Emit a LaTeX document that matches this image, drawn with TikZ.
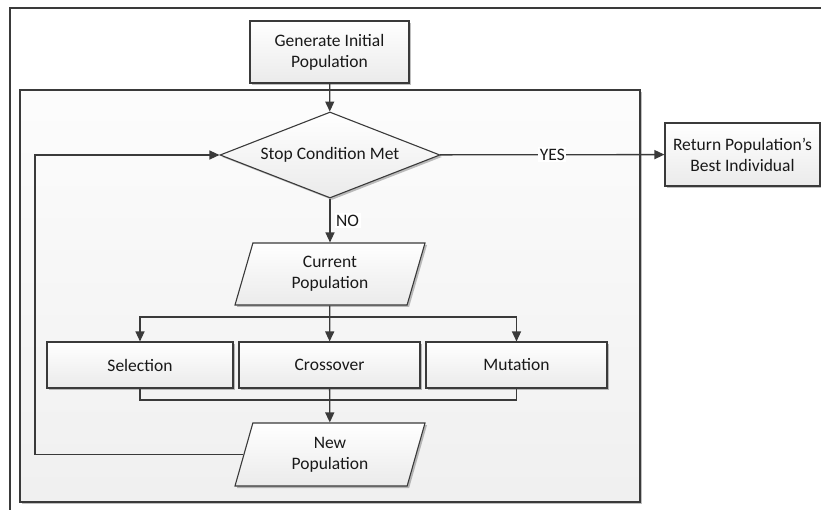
\documentclass[tikz,border=0pt]{standalone}
\usepackage{fontspec}
\setmainfont{Carlito}
\usetikzlibrary{shapes.geometric,arrows.meta,shadows,calc}
\definecolor{lncol}{HTML}{3A3A3A}
\begin{document}
\begin{tikzpicture}[x=1pt,y=-1pt,
  every node/.style={font=\fontsize{17.5}{21}\selectfont, text=black!90},
  shad/.style={drop shadow={shadow xshift=2pt,shadow yshift=-2pt,opacity=0.25,fill=black}},
  box/.style={draw=lncol, line width=1.1pt, top color=white, bottom color=gray!16,
              align=center, inner sep=0pt, shad},
  para/.style={box, trapezium, trapezium left angle=63, trapezium right angle=117,
               trapezium stretches body, minimum width=190pt, minimum height=62pt},
  conn/.style={draw=lncol, line width=1.3pt},
  arr/.style={conn, -{Triangle[length=10pt,width=9pt]}},
  lbl/.style={fill=white, inner sep=1.5pt}]
\useasboundingbox (0,0) rectangle (821,510);
% outer frame
\draw[conn, line width=1.1pt] (10,530) -- (10,8) -- (840,8);
% container
\node[draw=lncol, line width=1.1pt, top color=gray!2, bottom color=gray!12, shad,
      minimum width=620pt, minimum height=412pt, inner sep=0pt] (cont) at (330,296) {};
% nodes
\node[box, minimum width=159pt, minimum height=62pt] (gen) at (329.5,52) {Generate Initial\\Population};
\node[box, diamond, aspect=2.558, minimum width=220pt, minimum height=86pt] (dia) at (330,155) {Stop Condition Met};
\node[box, minimum width=155pt, minimum height=63pt] (ret) at (742.5,154.5) {Return Population’s\\Best Individual};
\node[para] (cp) at (330,274) {Current\\Population};
\node[box, minimum width=186pt, minimum height=46pt] (sel) at (140,365) {Selection};
\node[box, minimum width=181pt, minimum height=46pt] (cross) at (329.5,365) {Crossover};
\node[box, minimum width=181pt, minimum height=46pt] (mut) at (516.5,365) {Mutation};
\node[para, minimum height=63pt] (np) at (330,454.5) {New\\Population};
\coordinate (split) at (330,317);
\coordinate (merge) at (330,400);
\coordinate (loopc) at (35,155);
% connectors
\draw[arr] (gen) -- (dia);
\draw[arr] (dia) -- node[lbl] {YES} (ret);
\draw[arr] (dia) -- node[lbl, right, xshift=4pt] {NO} (cp);
\draw[arr] (cp) -- (cross);
\draw[arr] (split) -| (sel.north);
\draw[arr] (split) -| (mut.north);
\draw[conn] (sel.south) |- (merge);
\draw[conn] (mut.south) |- (merge);
\draw[arr] (cross) -- (np);
\draw[arr] (np.west) -| (loopc) -- (dia.west);
\end{tikzpicture}
\end{document}
